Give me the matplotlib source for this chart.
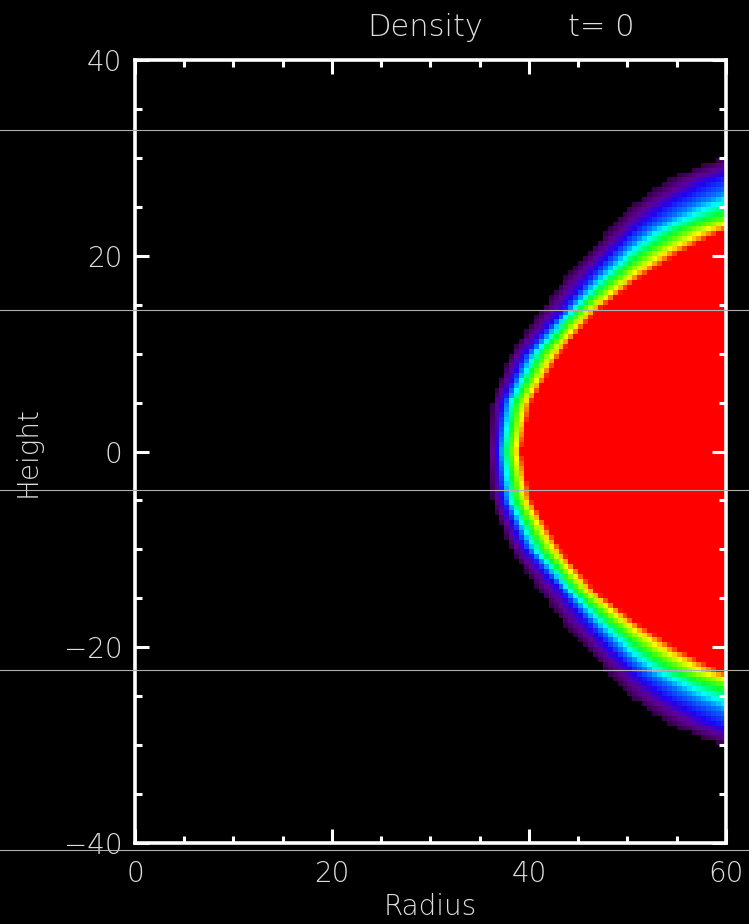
import numpy as np
import matplotlib
matplotlib.use("Agg")
import matplotlib.pyplot as plt
from matplotlib.colors import LinearSegmentedColormap
from matplotlib.lines import Line2D

# torus surfaces per |height| (the disc is mirrored about the midplane)
heights = [0, 5, 10, 14.5, 17.5, 20.4, 22.6, 25, 28, 31, 40]
# radius where the density first rises above the floor
r_outer = [35.8, 36.2, 38.2, 41.2, 43.5, 46.2, 48.0, 50.2, 54.5, 62.0, 200.0]
# radius where the density passes the blue level
r_blue = [36.7, 37.3, 39.5, 43.4, 45.8, 48.3, 50.6, 53.5, 59.0, 68.0, 250.0]
# radius where the density reaches the top of the colour scale
r_peak = [39.2, 40.2, 43.2, 47.0, 51.0, 55.4, 60.0, 70.0, 85.0, 120.0, 300.0]

x_ticks = [0, 20, 40, 60]
y_ticks = [-40, -20, 0, 20, 40]

# simulation grid
dr = 0.5
r_cells = np.arange(dr / 2, 60, dr)
z_cells = np.arange(-40 + dr / 2, 40, dr)
az = np.abs(z_cells)

outer = np.interp(az, heights, r_outer)[:, None]
blue = np.interp(az, heights, r_blue)[:, None]
top = np.interp(az, heights, r_peak)[:, None]

R = r_cells[None, :]
fringe = 0.3 * (R - outer) / (blue - outer)
core = 0.3 + 0.7 * (R - blue) / (top - blue)
rho = np.where(R < blue, fringe, core)
rho = np.where(rho < 0, -1.0, np.clip(rho, 0, 1))

# rainbow table: black floor, purple -> blue -> cyan -> green -> yellow -> red
stops = [
    (0.00, (0.20, 0.00, 0.28)),
    (0.15, (0.38, 0.00, 0.58)),
    (0.30, (0.12, 0.00, 0.95)),
    (0.42, (0.00, 0.50, 1.00)),
    (0.50, (0.00, 1.00, 1.00)),
    (0.62, (0.00, 1.00, 0.20)),
    (0.72, (0.40, 1.00, 0.00)),
    (0.84, (1.00, 1.00, 0.00)),
    (0.93, (1.00, 0.50, 0.00)),
    (1.00, (1.00, 0.00, 0.00)),
]
cmap = LinearSegmentedColormap.from_list("idl_rainbow", stops)
cmap.set_under("black")

txt = "#dedede"
fig = plt.figure(figsize=(7.49, 9.24), dpi=100, facecolor="black")
ax = fig.add_axes([0.1802, 0.0877, 0.7891, 0.8473], facecolor="black")

ax.pcolormesh(np.append(r_cells - dr / 2, 60),
              np.append(z_cells - dr / 2, 40),
              rho, cmap=cmap, vmin=0, vmax=1, shading="flat")

ax.set_xlim(0, 60)
ax.set_ylim(-40, 40)
ax.set_xticks(x_ticks)
ax.set_yticks(y_ticks)
ax.set_xticks(np.arange(0, 61, 5), minor=True)
ax.set_yticks(np.arange(-40, 41, 5), minor=True)
ax.set_xticklabels([str(v) for v in x_ticks])
ax.set_yticklabels(["\u2212%d" % -v if v < 0 else str(v) for v in y_ticks])

for s in ax.spines.values():
    s.set_color("white")
    s.set_linewidth(2.6)
ax.tick_params(which="both", direction="in", colors="white", top=True, right=True,
               width=2.2, labelcolor=txt, labelsize=20)
ax.tick_params(which="major", length=10)
ax.tick_params(which="minor", length=5)
ax.tick_params(axis="x", pad=12)
ax.tick_params(axis="y", pad=9)
for lab in ax.get_xticklabels() + ax.get_yticklabels():
    lab.set_fontweight("light")

ax.set_xlabel("Radius", color=txt, fontsize=20, fontweight="light", labelpad=4)
ax.set_ylabel("Height", color=txt, fontsize=20, fontweight="light", labelpad=16)

fig.text(0.49, 0.970, "Density", color=txt, fontsize=22, fontweight="light",
         ha="left", va="center")
fig.text(0.758, 0.970, "t= 0", color=txt, fontsize=22, fontweight="light",
         ha="left", va="center")

# faint horizontal scan lines across the frame
for yp in [130, 310, 490, 670, 850]:
    fig.add_artist(Line2D([0, 1], [1 - yp / 924, 1 - yp / 924], color="#b0b0b0",
                          linewidth=0.8, zorder=10))

fig.savefig("out.png", dpi=100, facecolor="black")
